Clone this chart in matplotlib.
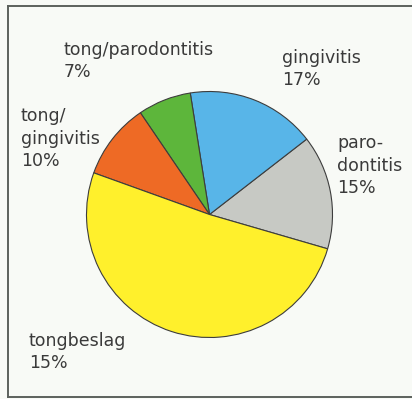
import matplotlib.pyplot as plt
from matplotlib.lines import Line2D

# verdeling van de slices, tegen de klok in vanaf parodontitis
categories = ["paro-\ndontitis", "gingivitis", "tong/parodontitis", "tong/\ngingivitis", "tongbeslag"]
shares = [15, 17, 7, 10, 51]
pct_labels = ["15%", "17%", "7%", "10%", "15%"]
colors = ["#c7c9c4", "#58b5e8", "#5db63b", "#ee6a25", "#fff02c"]

# tekstposities in pixels (links, basislijn laatste regel)
label_pos = [(337, 193), (282, 85), (64, 77), (21, 166), (29, 368)]

W, H = 412, 399
fig = plt.figure(figsize=(W / 100, H / 100), dpi=100)
fig.patch.set_facecolor("#f8faf6")
ax = fig.add_axes([0, 0, 1, 1])

ax.pie(shares, colors=colors, startangle=-16.2, counterclock=True,
       center=(209.5, H - 214.5), radius=123, frame=True,
       wedgeprops=dict(edgecolor="#3d3d3d", linewidth=0.8))
ax.set_xlim(0, W)
ax.set_ylim(0, H)
ax.set_aspect("equal")
ax.axis("off")

# kader
for xs, ys in [((8, 8), (6, 397)), ((8, W), (6, 6)), ((8, W), (397, 397))]:
    ax.add_line(Line2D(xs, [H - y for y in ys], color="#5c615c", lw=1.4))

for name, pct, (x, y) in zip(categories, pct_labels, label_pos):
    ax.text(x, H - y, name + "\n" + pct, ha="left", va="baseline",
            fontsize=12.5, family="DejaVu Sans", color="#3a3a3a",
            linespacing=1.32)

fig.savefig("out.png", dpi=100, facecolor=fig.get_facecolor())
